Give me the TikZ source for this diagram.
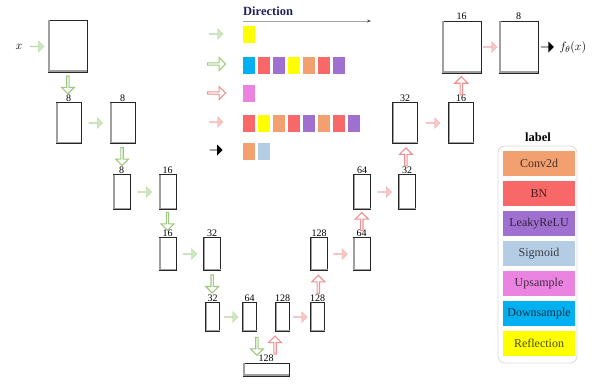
\documentclass[tikz,border=0pt]{standalone}
\usepackage{fontspec}
\setmainfont{Liberation Serif}
\usetikzlibrary{shapes.arrows, calc, arrows.meta}

\definecolor{conv}{HTML}{F2A070}
\definecolor{bn}{HTML}{F86868}
\definecolor{leaky}{HTML}{A070D0}
\definecolor{sigm}{HTML}{B4CCE4}
\definecolor{upsm}{HTML}{EB84E0}
\definecolor{dnsm}{HTML}{00B0F0}
\definecolor{refl}{HTML}{FFFF00}
\definecolor{gfill}{HTML}{CFE6C0}
\definecolor{gline}{HTML}{9CC97E}
\definecolor{rfill}{HTML}{F9C6C6}
\definecolor{rline}{HTML}{F09090}
\definecolor{navy}{HTML}{202060}

\begin{document}
\begin{tikzpicture}[x=1pt, y=-1pt,
    fmap/.style={draw=black!85, fill=white, line width=0.6pt, inner sep=0pt},
    sA/.style={minimum width=39pt, minimum height=52pt},
    sB/.style={minimum width=25pt, minimum height=41pt},
    sC/.style={minimum width=17pt, minimum height=35pt},
    sD/.style={minimum width=17pt, minimum height=33pt},
    sE/.style={minimum width=14pt, minimum height=29pt},
    sF/.style={minimum width=46pt, minimum height=13pt},
    lab/.style={label={[font=\fontsize{10}{12}\selectfont, inner sep=0.8pt]above:#1}},
    edge/.style={gray!75, line width=1.3pt},
    arr/.style={single arrow, inner sep=0pt, single arrow head extend=2.5pt},
    gh/.style={arr, fill=gfill, draw=gline!70, line width=0.4pt, minimum height=14pt, minimum width=11pt},
    gv/.style={arr, fill=white, draw=gline, line width=1.1pt, minimum height=18pt, minimum width=13pt},
    rh/.style={arr, fill=rfill, draw=rline!70, line width=0.4pt, minimum height=14pt, minimum width=11pt},
    rv/.style={arr, fill=white, draw=rline, line width=1.1pt, minimum height=18pt, minimum width=13pt},
    kh/.style={arr, fill=black, minimum height=13pt, minimum width=11pt},
    sq/.style={minimum width=12pt, minimum height=17pt, inner sep=0pt},
    entry/.style={minimum width=72pt, minimum height=25pt, inner sep=0pt,
        font=\fontsize{12}{14}\selectfont}]

    \useasboundingbox (0,0) rectangle (602,384);

    % encoder
    \node (xin) at (19,47) {\fontsize{13}{15}\selectfont$x$};
    \node[fmap, sA] (b1) at (67.5,46) {};
    \node[fmap, sB, lab=8] (b2) at (68.5,123) {};
    \node[fmap, sB, lab=8] (b3) at (122.5,123) {};
    \node[fmap, sC, lab=8] (b4) at (121.5,192) {};
    \node[fmap, sC, lab=16] (b5) at (167.5,192) {};
    \node[fmap, sD, lab=16] (b6) at (167.5,254) {};
    \node[fmap, sD, lab=32] (b7) at (212,254) {};
    \node[fmap, sE, lab=32] (b8) at (212.5,317) {};
    \node[fmap, sE, lab=64] (b9) at (249.5,317) {};
    \node[fmap, sF, lab=128] (b10) at (266,369.5) {};

    % decoder
    \node[fmap, sE, lab=128] (b11) at (282.5,317) {};
    \node[fmap, sE, lab=128] (b12) at (317.5,317) {};
    \node[fmap, sD, lab=128] (b13) at (319,254) {};
    \node[fmap, sD, lab=64] (b14) at (361.5,254) {};
    \node[fmap, sC, lab=64] (b15) at (362,192) {};
    \node[fmap, sC, lab=32] (b16) at (407,192) {};
    \node[fmap, sB, lab=32] (b17) at (405,123) {};
    \node[fmap, sB, lab=16] (b18) at (461,123) {};
    \node[fmap, sA, lab=16] (b19) at (461.5,47) {};
    \node[fmap, sA, lab=8] (b20) at (518.5,47) {};
    \node[anchor=west] (fout) at (556,47) {\fontsize{13}{15}\selectfont$f_\theta(x)$};

    % shaded left and bottom sides
    \foreach \n in {1,...,20}
        \draw[edge] ([xshift=1.2pt, yshift=-0.3pt]b\n.north west) -- ([xshift=1.2pt, yshift=1.2pt]b\n.south west)
            -- ([xshift=-0.3pt, yshift=1.2pt]b\n.south east);

    % arrows between maps
    \node[gh] (a0) at ($(xin.east)!0.5!(b1.west)$) {};
    \node[gh] (a1) at ($(b2.east)!0.5!(b3.west)$) {};
    \node[gh] (a2) at ($(b4.east)!0.5!(b5.west)$) {};
    \node[gh] (a3) at ($(b6.east)!0.5!(b7.west)$) {};
    \node[gh] (a4) at ($(b8.east)!0.5!(b9.west)$) {};
    \node[gv, rotate=-90] (d1) at ($(b1.south)!0.4!(b2.north)$) {};
    \node[gv, rotate=-90] (d2) at ($(b3.south)!0.4!(b4.north)$) {};
    \node[gv, rotate=-90] (d3) at ($(b5.south)!0.4!(b6.north)$) {};
    \node[gv, rotate=-90] (d4) at ($(b7.south)!0.4!(b8.north)$) {};
    \node[gv, rotate=-90] (d5) at ($(b9.south)!0.45!(b10.north)$) {};
    \node[rv, rotate=90] (u1) at ($(b10.north)!0.55!(b11.south)$) {};
    \node[rv, rotate=90] (u2) at ($(b12.north)!0.55!(b13.south)$) {};
    \node[rv, rotate=90] (u3) at ($(b14.north)!0.55!(b15.south)$) {};
    \node[rv, rotate=90] (u4) at ($(b16.north)!0.55!(b17.south)$) {};
    \node[rv, rotate=90] (u5) at ($(b18.north)!0.55!(b19.south)$) {};
    \node[rh] (h1) at ($(b11.east)!0.5!(b12.west)$) {};
    \node[rh] (h2) at ($(b13.east)!0.5!(b14.west)$) {};
    \node[rh] (h3) at ($(b15.east)!0.5!(b16.west)$) {};
    \node[rh] (h4) at ($(b17.east)!0.5!(b18.west)$) {};
    \node[rh] (h5) at ($(b19.east)!0.5!(b20.west)$) {};
    \node[kh] (k1) at ($(b20.east)!0.5!(fout.west)$) {};

    % direction legend
    \node[anchor=west, font=\fontsize{12.5}{14}\selectfont\bfseries, text=navy, inner sep=0pt] (dir) at (243,11) {Direction};
    \coordinate (dir0) at (243,21);
    \coordinate (dir1) at (371,21);
    \draw[gray!70, line width=0.8pt, -{Stealth[length=4pt, black!70]}] (dir0) -- (dir1);

    \node[gh] (la1) at (216,34) {};
    \node[gv] (la2) at (216,64) {};
    \node[rv] (la3) at (216,93) {};
    \node[rh] (la4) at (216,122) {};
    \node[kh] (la5) at (216,150) {};

    \node[sq, fill=refl] (r1-1) at (249,34) {};
    \foreach \c [count=\i] in {dnsm, bn, leaky, refl, conv, bn, leaky}
        \node[sq, fill=\c] (r2-\i) at (234+15*\i,65) {};
    \node[sq, fill=upsm] (r3-1) at (249,93.5) {};
    \foreach \c [count=\i] in {bn, refl, conv, bn, leaky, conv, bn, leaky}
        \node[sq, fill=\c] (r4-\i) at (234+15*\i,123.5) {};
    \foreach \c [count=\i] in {conv, sigm}
        \node[sq, fill=\c] (r5-\i) at (234+15*\i,151) {};

    % label legend
    \node[font=\fontsize{12.5}{14}\selectfont\bfseries] (lbl) at (538,137) {label};
    \draw[gray!30, line width=0.8pt, rounded corners=7pt] (498,146) rectangle (577,363);
    \foreach \t/\c [count=\i from 0] in {Conv2d/conv, BN/bn, LeakyReLU/leaky, Sigmoid/sigm,
            Upsample/upsm, Downsample/dnsm, Reflection/refl}
        \node[entry, fill=\c, text=\c!30!black] (e\i) at (539,163.5+30*\i) {\t};
\end{tikzpicture}
\end{document}
